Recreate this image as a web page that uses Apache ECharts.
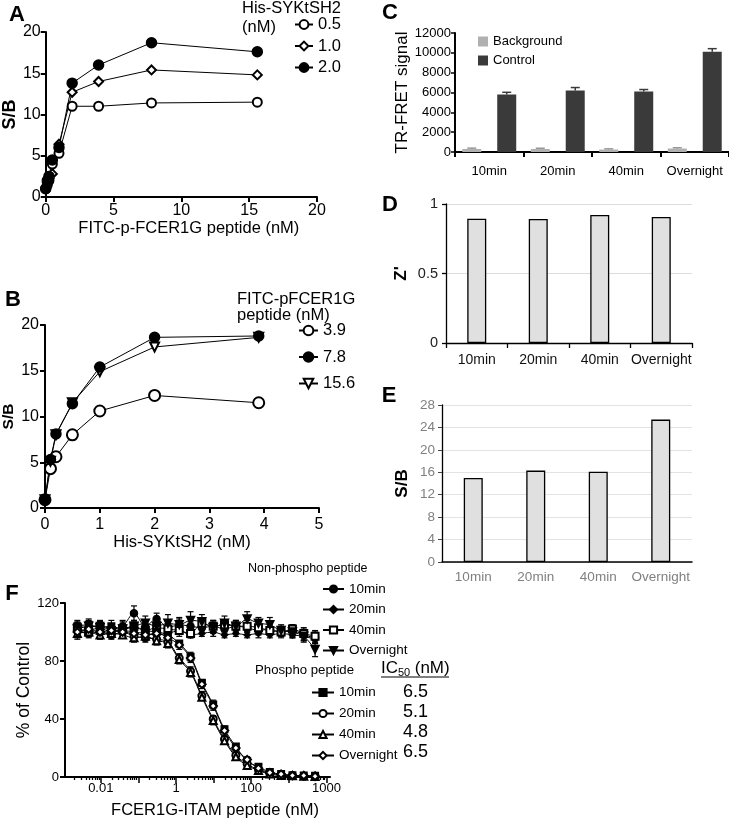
<!DOCTYPE html>
<html><head><meta charset="utf-8">
<script src="https://cdn.jsdelivr.net/npm/echarts@6/dist/echarts.min.js"></script>
<style>html,body{margin:0;padding:0;background:#fff}#c{width:729px;height:820px}</style>
</head><body><div id="c"></div>
<script>
// ---------- Panel A ----------
const aX = [0, 0.12, 0.24, 0.49, 0.98, 1.95, 3.9, 7.8, 15.6];
const aS05 = [1.0, 1.5, 2.0, 4.0, 5.3, 11.0, 11.0, 11.4, 11.5];
const aS10 = [1.0, 1.8, 2.2, 2.8, 6.4, 12.7, 14.0, 15.4, 14.8];
const aS20 = [1.0, 2.0, 2.5, 4.5, 6.0, 13.8, 16.0, 18.7, 17.6];
// ---------- Panel B ----------
const bX = [0, 0.1, 0.2, 0.5, 1.0, 2.0, 3.9];
const bS39 = [0.9, 4.3, 5.6, 8.0, 10.6, 12.3, 11.5];
const bS78 = [0.9, 5.3, 8.1, 11.4, 15.4, 18.65, 18.8];
const bS156 = [0.9, 5.1, 8.0, 11.5, 14.9, 17.6, 18.65];
// ---------- Panels C, D, E ----------
const times = ['10min', '20min', '40min', 'Overnight'];
const cBackground = [300, 300, 250, 350];
const cBackgroundErr = [90, 80, 70, 80];
const cControl = [5800, 6200, 6100, 10100];
const cControlErr = [220, 300, 200, 320];
const dZ = [0.894, 0.892, 0.921, 0.906];
const eSB = [15.0, 16.3, 16.1, 25.4];
// ---------- Panel F ----------
const fConc = [0.00238, 0.00477, 0.00954, 0.0191, 0.0381, 0.0763, 0.153, 0.305, 0.61, 1.22, 2.44, 4.88, 9.77, 19.5, 39.1, 78.1, 156, 313, 625, 1250, 2500, 5000];
const np10 = [104, 103, 105, 102, 104, 113, 104, 109, 103, 105, 104, 103, 104, 102, 104, 103, 101, 102, 100, 101, 98, 96];
const np10Err = [3, 4, 3, 3, 4, 5, 3, 4, 3, 4, 3, 3, 4, 3, 4, 3, 3, 3, 3, 4, 4, 4];
const np20 = [100, 101, 99, 100, 101, 100, 99, 98, 99, 101, 98, 99, 100, 98, 99, 98, 99, 98, 99, 98, 97, 95];
const np20Err = [2, 2, 3, 2, 2, 3, 2, 2, 3, 2, 2, 2, 3, 2, 2, 2, 3, 2, 2, 2, 3, 3];
const np40 = [103, 100, 104, 101, 102, 104, 101, 103, 102, 101, 99, 106, 104, 105, 104, 104, 103, 101, 100, 102, 99, 97];
const np40Err = [3, 3, 3, 4, 3, 3, 4, 3, 3, 4, 3, 3, 4, 3, 3, 4, 3, 3, 4, 3, 4, 4];
const npON = [102, 104, 103, 100, 102, 104, 106, 104, 106, 105, 108, 107, 103, 106, 104, 109, 106, 105, 101, 100, 97, 88];
const npONErr = [4, 5, 4, 4, 5, 4, 5, 4, 6, 5, 6, 5, 4, 5, 4, 5, 4, 5, 4, 4, 4, 5];
const p10 = [104, 105, 103, 104, 102, 103, 101, 100, 98, 92, 83, 65, 50, 33, 21, 11, 7, 3.5, 2, 1.2, 1, 0.8];
const p10Err = [4, 3, 3, 4, 3, 3, 3, 3, 3, 2, 3, 2, 3, 2, 2, 2, 1, 1, 1, 1, 1, 1];
const p20 = [101, 99, 100, 98, 100, 97, 96, 95, 93, 82, 73, 56, 40, 26, 15, 9, 5, 2.5, 1.5, 1, 0.5, 0.5];
const p20Err = [3, 3, 2, 3, 3, 2, 3, 3, 3, 3, 3, 3, 2, 2, 2, 1, 1, 1, 1, 1, 1, 1];
const p40 = [99, 100, 98, 99, 98, 96, 97, 94, 92, 81, 72, 55, 39, 25, 14, 8, 4.5, 2, 1, 0.8, 0.5, 0.3];
const p40Err = [3, 2, 3, 3, 2, 3, 2, 3, 3, 3, 3, 2, 3, 2, 2, 1, 1, 1, 1, 1, 1, 1];
const pON = [100, 102, 100, 101, 100, 99, 98, 99, 96, 91, 82, 64, 49, 32, 20, 12, 6, 3, 2, 1, 1, 0.5];
const pONErr = [5, 3, 3, 3, 4, 3, 3, 3, 2, 3, 3, 3, 3, 3, 2, 2, 1, 1, 1, 1, 1, 1];
const icLabels = ['10min', '20min', '40min', 'Overnight'];
const icValues = ['6.5', '5.1', '4.8', '6.5'];
// F x-axis tick labels as printed in the figure
const fTickValues = [0.01, 1, 100, 10000];
const fTickLabels = ['0.01', '1', '100', '1000'];
const fDecades = [0.001, 0.01, 0.1, 1, 10, 100, 1000, 10000];
const fMinorMult = [2, 3, 4, 5, 6, 7, 8, 9];

const FONT = '"Liberation Sans", Arial, Helvetica, sans-serif';
const zip = (xs, ys) => xs.map((x, i) => [x, ys[i]]);

function lineAxis(extra) {
  return Object.assign({
    axisLine: { show: true, onZero: false, lineStyle: { color: '#000', width: 2 } },
    axisTick: { show: true, length: 5, lineStyle: { color: '#000', width: 2 } },
    axisLabel: { color: '#000', fontSize: 16, margin: 6 },
    splitLine: { show: false },
    nameLocation: 'middle'
  }, extra);
}

function txt(x, y, text, size, o) {
  o = o || {};
  return {
    type: 'text', x: x, y: y, rotation: o.rot || 0, silent: true,
    style: {
      text: text, fontSize: size, fontWeight: o.bold ? 'bold' : 'normal', fontFamily: FONT,
      fill: o.color || '#000', align: o.align || 'left', verticalAlign: 'middle',
      textAlign: o.align || 'left', textVerticalAlign: 'middle'
    }
  };
}

function lineSeries(name, xi, xs, ys, symbol, size, extra) {
  return Object.assign({
    name: name, type: 'line', xAxisIndex: xi, yAxisIndex: xi, data: zip(xs, ys),
    symbol: symbol, symbolSize: size, showSymbol: true,
    lineStyle: { color: '#000', width: 1 },
    itemStyle: { color: '#000', borderColor: '#000', borderWidth: 1.5 },
    emphasis: { disabled: true }
  }, extra || {});
}

function fErr(vals, errs, z) {
  return {
    type: 'custom', xAxisIndex: 5, yAxisIndex: 5, silent: true, z: z,
    data: fConc.map((c, i) => [c, vals[i], errs[i]]),
    renderItem: function (params, api) {
      const x = api.value(0), y = api.value(1), e = api.value(2);
      const hi = api.coord([x, y + e]), lo = api.coord([x, Math.max(y - e, 0.0001)]);
      const st = { stroke: '#000', lineWidth: 1.2 };
      return { type: 'group', children: [
        { type: 'line', shape: { x1: hi[0], y1: hi[1], x2: lo[0], y2: lo[1] }, style: st },
        { type: 'line', shape: { x1: hi[0] - 3, y1: hi[1], x2: hi[0] + 3, y2: hi[1] }, style: st },
        { type: 'line', shape: { x1: lo[0] - 3, y1: lo[1], x2: lo[0] + 3, y2: lo[1] }, style: st }
      ] };
    }
  };
}

function cErr(vals, errs, off, color) {
  return {
    type: 'custom', xAxisIndex: 2, yAxisIndex: 2, silent: true, z: 3,
    data: vals.map((v, i) => [i, v, errs[i]]),
    renderItem: function (params, api) {
      const top = api.coord([api.value(0), api.value(1) + api.value(2)]);
      const mid = api.coord([api.value(0), api.value(1)]);
      const x = top[0] + off;
      const st = { stroke: color, lineWidth: 1.5 };
      return { type: 'group', children: [
        { type: 'line', shape: { x1: x, y1: top[1], x2: x, y2: mid[1] }, style: st },
        { type: 'line', shape: { x1: x - 4.5, y1: top[1], x2: x + 4.5, y2: top[1] }, style: st }
      ] };
    }
  };
}

const fMinorTicks = [];
fDecades.forEach(d => fMinorMult.forEach(m => fMinorTicks.push(d * m)));
const fMin = 0.001117, fMax = 12470;

const option = {
  animation: false,
  textStyle: { fontFamily: FONT },
  grid: [
    { left: 42, top: 32, width: 275, height: 165 },
    { left: 43, top: 325, width: 276, height: 183 },
    { left: 455, top: 33, width: 274, height: 119 },
    { left: 446, top: 204, width: 246, height: 139 },
    { left: 442, top: 405, width: 250, height: 157 },
    { left: 65, top: 603, width: 265, height: 175 }
  ],
  xAxis: [
    lineAxis({ gridIndex: 0, type: 'value', min: 0, max: 20, interval: 5,
      name: 'FITC-p-FCER1G peptide (nM)', nameGap: 17,
      nameTextStyle: { color: '#000', fontSize: 16.5, padding: [0, 0, 0, 15] } }),
    lineAxis({ gridIndex: 1, type: 'value', min: 0, max: 5, interval: 1,
      axisLabel: { color: '#000', fontSize: 16, margin: 9 },
      name: 'His-SYKtSH2 (nM)', nameGap: 22,
      nameTextStyle: { color: '#000', fontSize: 16.5 } }),
    { gridIndex: 2, type: 'category', data: times,
      axisLine: { show: true, lineStyle: { color: '#000', width: 2 } },
      axisTick: { show: true, length: 5, interval: 0, lineStyle: { color: '#000', width: 2 } },
      axisLabel: { color: '#000', fontSize: 13, margin: 13, interval: 0 } },
    { gridIndex: 3, type: 'category', data: times,
      axisLine: { show: true, lineStyle: { color: '#000', width: 1.3 } },
      axisTick: { show: true, length: 5, interval: 0, lineStyle: { color: '#000', width: 1.3 } },
      axisLabel: { color: '#111', fontSize: 14, margin: 10, interval: 0 } },
    { gridIndex: 4, type: 'category', data: times,
      axisLine: { show: true, lineStyle: { color: '#000', width: 1.5 } },
      axisTick: { show: false },
      axisLabel: { color: '#808080', fontSize: 13.5, margin: 8, interval: 0 } },
    { gridIndex: 5, type: 'log', min: fMin, max: fMax, position: 'bottom',
      axisLine: { show: true, onZero: false, lineStyle: { color: '#000', width: 2 } },
      axisTick: { show: true, length: 3, customValues: fMinorTicks, lineStyle: { color: '#000', width: 1.3 } },
      axisLabel: { color: '#000', fontSize: 13, margin: 5, customValues: fTickValues,
        formatter: function (v) {
          for (let i = 0; i < fTickValues.length; i++) {
            if (Math.abs(Math.log10(v) - Math.log10(fTickValues[i])) < 0.01) return fTickLabels[i];
          }
          return '';
        } },
      splitLine: { show: false }, minorTick: { show: false },
      name: 'FCER1G-ITAM peptide (nM)', nameLocation: 'middle', nameGap: 25,
      nameTextStyle: { color: '#000', fontSize: 16.5, padding: [0, 0, 0, 35] } },
    { gridIndex: 5, type: 'log', min: fMin, max: fMax, position: 'bottom',
      axisLine: { show: false },
      axisTick: { show: true, length: 6, customValues: fDecades, lineStyle: { color: '#000', width: 1.5 } },
      axisLabel: { show: false }, splitLine: { show: false } }
  ],
  yAxis: [
    lineAxis({ gridIndex: 0, type: 'value', min: 0, max: 20, interval: 5,
      axisLabel: { color: '#000', fontSize: 16, margin: 5 },
      name: 'S/B', nameGap: 26, nameTextStyle: { color: '#000', fontSize: 18, fontWeight: 'bold' } }),
    lineAxis({ gridIndex: 1, type: 'value', min: 0, max: 20, interval: 5,
      axisLabel: { color: '#000', fontSize: 16, margin: 6 },
      name: 'S/B', nameGap: 28, nameTextStyle: { color: '#000', fontSize: 15.5, fontWeight: 'bold' } }),
    lineAxis({ gridIndex: 2, type: 'value', min: 0, max: 12000, interval: 2000,
      axisTick: { show: true, length: 4, lineStyle: { color: '#000', width: 1.5 } },
      axisLabel: { color: '#000', fontSize: 13, margin: 4, formatter: v => String(v) },
      name: 'TR-FRET signal', nameGap: 42, nameTextStyle: { color: '#000', fontSize: 17 } }),
    { gridIndex: 3, type: 'value', min: 0, max: 1, interval: 0.5, nameLocation: 'middle',
      axisLine: { show: true, lineStyle: { color: '#000', width: 1.3 } },
      axisTick: { show: true, length: 4, lineStyle: { color: '#000', width: 1.3 } },
      axisLabel: { color: '#222', fontSize: 14.5, margin: 8 },
      splitLine: { show: true, lineStyle: { color: '#dcdcdc', width: 1 } },
      name: "Z'", nameGap: 36, nameTextStyle: { color: '#000', fontSize: 17, fontWeight: 'bold' } },
    { gridIndex: 4, type: 'value', min: 0, max: 28, interval: 4, nameLocation: 'middle',
      axisLine: { show: true, lineStyle: { color: '#000', width: 1.3 } },
      axisTick: { show: true, length: 4, lineStyle: { color: '#444', width: 1 } },
      axisLabel: { color: '#808080', fontSize: 13.5, margin: 7 },
      splitLine: { show: true, lineStyle: { color: '#e3e3e3', width: 1 } },
      name: 'S/B', nameGap: 31, nameTextStyle: { color: '#000', fontSize: 17, fontWeight: 'bold' } },
    lineAxis({ gridIndex: 5, type: 'value', min: 0, max: 120, interval: 40,
      axisLabel: { color: '#000', fontSize: 13, margin: 6 },
      name: '% of Control', nameGap: 30, nameTextStyle: { color: '#000', fontSize: 17.5 } })
  ],
  legend: [
    { data: ['0.5', '1.0', '2.0'], orient: 'vertical', left: 294, top: 16, padding: 0,
      itemWidth: 18, itemHeight: 11, itemGap: 4.5, selectedMode: false,
      textStyle: { fontSize: 16.5, color: '#000' } },
    { data: ['3.9', '7.8', '15.6'], orient: 'vertical', left: 298, top: 322, padding: 0,
      itemWidth: 19, itemHeight: 12, itemGap: 9.5, selectedMode: false,
      textStyle: { fontSize: 16.5, color: '#000' } },
    { data: ['Background', 'Control'], orient: 'vertical', left: 478, top: 35, padding: 0,
      itemWidth: 10, itemHeight: 10, itemGap: 6, icon: 'rect', selectedMode: false,
      textStyle: { fontSize: 13, color: '#000' } },
    { data: ['NP 10min', 'NP 20min', 'NP 40min', 'NP Overnight'], orient: 'vertical', left: 322, top: 582, padding: 0,
      itemWidth: 21, itemHeight: 9, itemGap: 6.5, selectedMode: false,
      formatter: n => n.replace(/^NP /, ''), textStyle: { fontSize: 13.5, color: '#000' } },
    { data: ['P 10min', 'P 20min', 'P 40min', 'P Overnight'], orient: 'vertical', left: 311, top: 685.5, padding: 0,
      itemWidth: 22, itemHeight: 9, itemGap: 7, selectedMode: false,
      formatter: n => n.replace(/^P /, ''), textStyle: { fontSize: 13.5, color: '#000' } }
  ],
  series: [
    // A
    lineSeries('0.5', 0, aX, aS05, 'emptyCircle', 9),
    lineSeries('1.0', 0, aX, aS10, 'emptyDiamond', 9),
    lineSeries('2.0', 0, aX, aS20, 'circle', 10),
    // B
    lineSeries('3.9', 1, bX, bS39, 'emptyCircle', 11),
    lineSeries('15.6', 1, bX, bS156, 'emptyTriangle', 9, { symbolRotate: 180 }),
    lineSeries('7.8', 1, bX, bS78, 'circle', 10),
    // C
    { name: 'Background', type: 'bar', xAxisIndex: 2, yAxisIndex: 2, data: cBackground,
      barWidth: 19, barGap: '84%', itemStyle: { color: '#b0b0b0' }, emphasis: { disabled: true } },
    { name: 'Control', type: 'bar', xAxisIndex: 2, yAxisIndex: 2, data: cControl,
      barWidth: 19, barGap: '84%', itemStyle: { color: '#3a3a3a' }, emphasis: { disabled: true } },
    cErr(cBackground, cBackgroundErr, -17.5, '#999'),
    cErr(cControl, cControlErr, 17.5, '#3a3a3a'),
    // D
    { name: 'Zprime', type: 'bar', xAxisIndex: 3, yAxisIndex: 3, data: dZ, barWidth: 19,
      itemStyle: { color: '#e0e0e0', borderColor: '#000', borderWidth: 1.3 }, emphasis: { disabled: true } },
    // E
    { name: 'SB', type: 'bar', xAxisIndex: 4, yAxisIndex: 4, data: eSB, barWidth: 19,
      itemStyle: { color: '#e0e0e0', borderColor: '#000', borderWidth: 1.3 }, emphasis: { disabled: true } },
    // F error bars
    fErr(np10, np10Err, 1), fErr(np20, np20Err, 1), fErr(np40, np40Err, 1), fErr(npON, npONErr, 1),
    fErr(p10, p10Err, 1), fErr(p20, p20Err, 1), fErr(p40, p40Err, 1), fErr(pON, pONErr, 1),
    // F non-phospho
    lineSeries('NP 10min', 5, fConc, np10, 'circle', 7, { smooth: 0.3 }),
    lineSeries('NP 20min', 5, fConc, np20, 'diamond', 6, { smooth: 0.3 }),
    lineSeries('NP 40min', 5, fConc, np40, 'emptyRect', 7, { smooth: 0.3 }),
    lineSeries('NP Overnight', 5, fConc, npON, 'triangle', 8, { smooth: 0.3, symbolRotate: 180 }),
    // F phospho
    lineSeries('P 10min', 5, fConc, p10, 'rect', 6.5, { smooth: 0.4 }),
    lineSeries('P 20min', 5, fConc, p20, 'emptyCircle', 7, { smooth: 0.4 }),
    lineSeries('P 40min', 5, fConc, p40, 'emptyTriangle', 7, { smooth: 0.4 }),
    lineSeries('P Overnight', 5, fConc, pON, 'emptyDiamond', 7.5, { smooth: 0.4 })
  ],
  graphic: [
    txt(17, 15, 'A', 22, { bold: true, align: 'center' }),
    txt(13, 300, 'B', 22, { bold: true, align: 'center' }),
    txt(390, 13, 'C', 22, { bold: true, align: 'center' }),
    txt(390, 205, 'D', 22, { bold: true, align: 'center' }),
    txt(389, 396, 'E', 22, { bold: true, align: 'center' }),
    txt(12, 594, 'F', 22, { bold: true, align: 'center' }),
    txt(242, 8, 'His-SYKtSH2', 16.5),
    txt(242, 27, '(nM)', 16.5),
    txt(237, 299, 'FITC-pFCER1G', 16.5),
    txt(237, 315, 'peptide (nM)', 16.5),
    txt(248, 569, 'Non-phospho peptide', 12.5),
    txt(255, 670, 'Phospho peptide', 13.2),
    txt(381, 668, 'IC', 17),
    txt(398, 673, '50', 11),
    txt(410, 668, ' (nM)', 17),
    { type: 'line', silent: true, shape: { x1: 381, y1: 677, x2: 449, y2: 677 }, style: { stroke: '#000', lineWidth: 1.2 } }
  ].concat(icValues.map((v, i) => txt(403, 692 + i * 20, v, 18)))
};

const chart = echarts.init(document.getElementById('c'), null, { renderer: 'canvas', width: 729, height: 820 });
chart.setOption(option);
</script>
</body></html>
